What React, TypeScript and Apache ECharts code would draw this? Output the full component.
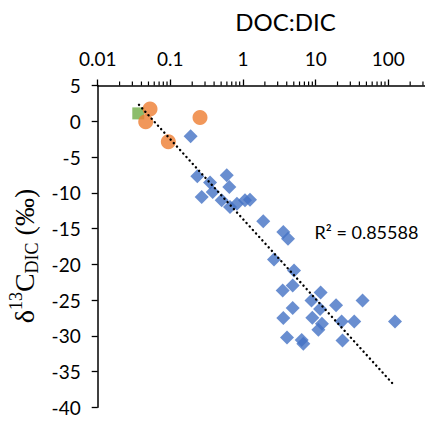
import React, { useEffect, useRef } from "react";
import * as echarts from "echarts";

// DOC:DIC (x, log) and δ13C-DIC (y, ‰)
const blueX = [0.19, 0.235, 0.352, 0.597, 0.648, 0.383, 0.27, 0.509, 0.662, 0.826, 1.066, 1.248, 1.9, 3.59, 4.16, 2.67, 5.04, 3.52, 4.83, 11.7, 44.2, 8.77, 19.1, 4.83, 11.5, 3.59, 9.0, 22.8, 34.0, 123.7, 12.2, 10.9, 4.03, 6.43, 6.76, 23.4];
const blueY = [-2.08, -7.69, -8.58, -7.55, -9.19, -9.9, -10.6, -11.06, -12.0, -11.52, -11.06, -10.96, -14.0, -15.48, -16.43, -19.33, -20.88, -23.68, -22.98, -23.96, -25.08, -25.08, -25.72, -26.11, -26.25, -27.51, -27.47, -27.99, -27.99, -27.99, -28.31, -29.15, -30.23, -30.6, -31.12, -30.65];
const orangeX = [0.0525, 0.0458, 0.0938, 0.256];
const orangeY = [1.7, -0.08, -2.88, 0.54];
const greenX = [0.0362];
const greenY = [1.1];
const trendX = [0.037, 120];
const trendY = [2.3, -36.9];
const minorTickValues = [
  0.02, 0.03, 0.04, 0.05, 0.06, 0.07, 0.08, 0.09,
  0.2, 0.3, 0.4, 0.5, 0.6, 0.7, 0.8, 0.9,
  2, 3, 4, 5, 6, 7, 8, 9,
  20, 30, 40, 50, 60, 70, 80, 90,
  200, 300, 400, 500, 600, 700, 800, 900,
];
const r2Text = "R² = 0.85588";
const xTitle = "DOC:DIC";

const zip = (xs: number[], ys: number[]) => xs.map((x, i) => [x, ys[i]]);

export default function App() {
  const ref = useRef<HTMLDivElement>(null);
  useEffect(() => {
    if (!ref.current) return;
    const chart = echarts.init(ref.current, null, { renderer: "svg" });
    const sans = "Lato";
    chart.setOption({
      animation: false,
      grid: {
        left: 97.7,
        top: 85.5,
        width: 363.25,
        height: 321.8,
        containLabel: false,
        outerBoundsMode: "none",
      },
      xAxis: {
        type: "log",
        logBase: 10,
        min: 0.01,
        max: 1000,
        position: "top",
        axisLine: { onZero: false, lineStyle: { color: "#000", width: 1.5 } },
        axisTick: { show: true, inside: false, length: 6, lineStyle: { color: "#000", width: 1.3 } },
        axisLabel: {
          color: "#000",
          fontFamily: sans,
          fontSize: 19,
          margin: 18,
          showMaxLabel: false,
          formatter: (v: number) => String(parseFloat(v.toPrecision(3))),
        },
        splitLine: { show: false },
      },
      yAxis: {
        type: "value",
        min: -40,
        max: 5,
        interval: 5,
        axisLine: { show: true, onZero: false, lineStyle: { color: "#000", width: 1.5 } },
        axisTick: { show: true, inside: false, length: 6, lineStyle: { color: "#000", width: 1.3 } },
        axisLabel: { color: "#000", fontFamily: sans, fontSize: 19, margin: 17 },
        splitLine: { show: false },
      },
      series: [
        {
          type: "custom",
          data: minorTickValues.map((v) => [v, 5]),
          clip: false,
          silent: true,
          renderItem: (params: any, api: any) => {
            const p = api.coord([api.value(0), api.value(1)]);
            return {
              type: "line",
              shape: { x1: p[0], y1: p[1], x2: p[0], y2: p[1] - 4 },
              style: { stroke: "#000", lineWidth: 1.2 },
            };
          },
          z: 1,
        },
        {
          type: "scatter",
          data: zip(blueX, blueY),
          symbol: "diamond",
          symbolSize: 14,
          itemStyle: { color: "#4472C4" },
          z: 2,
        },
        {
          type: "scatter",
          data: zip(greenX, greenY),
          symbol: "rect",
          symbolSize: 12,
          itemStyle: { color: "#70AD47" },
          z: 3,
        },
        {
          type: "scatter",
          data: zip(orangeX, orangeY),
          symbol: "circle",
          symbolSize: 15,
          itemStyle: { color: "#ED7D31" },
          z: 4,
        },
        {
          type: "line",
          data: zip(trendX, trendY),
          showSymbol: false,
          symbol: "none",
          lineStyle: { color: "#000", width: 2.4, type: [0.1, 4.6], cap: "round" },
          z: 5,
        },
      ],
      graphic: [
        {
          type: "text",
          x: 285.5,
          y: 21,
          style: {
            text: xTitle,
            fill: "#000",
            font: `24px ${sans}`,
            textAlign: "center",
            textVerticalAlign: "middle",
          },
        },
        {
          type: "text",
          x: 314.5,
          y: 232,
          style: {
            text: r2Text,
            fill: "#000",
            font: `18px ${sans}`,
            textAlign: "left",
            textVerticalAlign: "middle",
          },
        },
        {
          type: "text",
          x: 24,
          y: 256,
          rotation: Math.PI / 2,
          style: {
            text: "{m|δ}{sup|13}{m|C}{sub|DIC}{m| (‰)}",
            fill: "#000",
            textAlign: "center",
            textVerticalAlign: "middle",
            rich: {
              m: { fontFamily: "Liberation Serif", fontSize: 28, lineHeight: 34, fill: "#000" },
              sup: { fontFamily: "Liberation Serif", fontSize: 18, lineHeight: 18, verticalAlign: "top", fill: "#000" },
              sub: { fontFamily: "Liberation Serif", fontSize: 18, lineHeight: 18, verticalAlign: "bottom", fill: "#000" },
            },
          },
        },
      ],
    });
    return () => chart.dispose();
  }, []);
  return (
    <div
      ref={ref}
      style={{ position: "absolute", left: 0, top: 0, width: 425, height: 421 }}
    />
  );
}
